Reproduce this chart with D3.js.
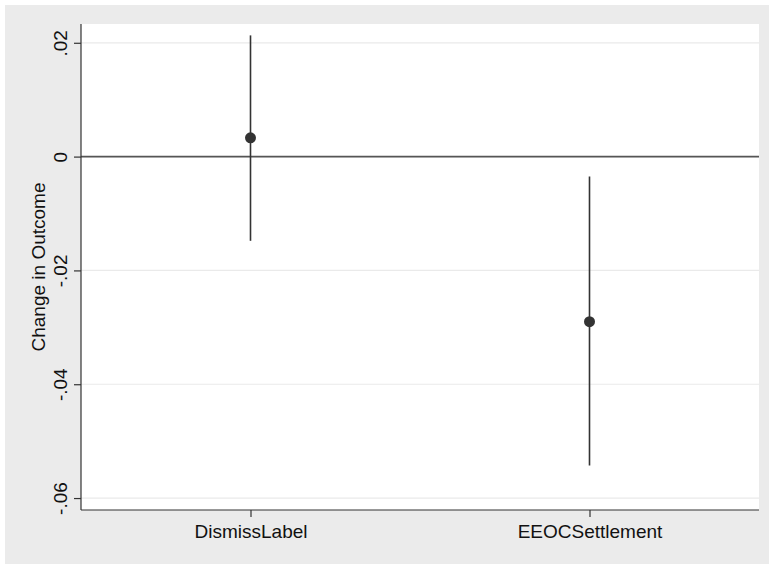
<!DOCTYPE html>
<html>
<head>
<meta charset="utf-8">
<script src="https://cdn.jsdelivr.net/npm/d3@7"></script>
<style>
  html, body { margin: 0; padding: 0; background: #ffffff; }
  svg { display: block; font-family: "Liberation Sans", Arial, sans-serif; }
</style>
</head>
<body>
<svg id="chart" width="769" height="565"></svg>
<script>
// Coefficient estimates with confidence intervals
const categories = ["DismissLabel", "EEOCSettlement"];
const estimates = [0.0033, -0.0290];
const ciLower = [-0.0148, -0.0543];
const ciUpper = [0.0213, -0.0035];
const yTicks = [0.02, 0, -0.02, -0.04, -0.06];
const yTickLabels = [".02", "0", "-.02", "-.04", "-.06"];
const yTitle = "Change in Outcome";

const W = 769, H = 565;
const plot = { left: 81, right: 759, top: 24, bottom: 510 };

const svg = d3.select("#chart");

// outer graph region
svg.append("rect")
  .attr("x", 5).attr("y", 5)
  .attr("width", W - 5).attr("height", H - 6)
  .attr("fill", "#ebebeb");

// plot region
svg.append("rect")
  .attr("x", plot.left).attr("y", plot.top)
  .attr("width", plot.right - plot.left).attr("height", plot.bottom - plot.top)
  .attr("fill", "#ffffff");

const x = d3.scaleLinear().domain([0.5, 2.5]).range([plot.left, plot.right]);
const y = d3.scaleLinear().domain([-0.0621, 0.0233]).range([plot.bottom, plot.top]);

// horizontal gridlines
svg.append("g").selectAll("line")
  .data(yTicks)
  .join("line")
  .attr("x1", plot.left).attr("x2", plot.right)
  .attr("y1", d => y(d)).attr("y2", d => y(d))
  .attr("stroke", "#eaeaea").attr("stroke-width", 1.2);

// reference line at zero
svg.append("line")
  .attr("x1", plot.left).attr("x2", plot.right)
  .attr("y1", y(0)).attr("y2", y(0))
  .attr("stroke", "#555555").attr("stroke-width", 1.6);

// y axis
const yAxis = d3.axisLeft(y)
  .tickValues(yTicks)
  .tickFormat((d, i) => yTickLabels[i])
  .tickSize(7)
  .tickPadding(5);
const gy = svg.append("g")
  .attr("transform", `translate(${plot.left},0)`)
  .call(yAxis);
gy.select(".domain").attr("stroke", "#333333").attr("stroke-width", 1.2)
  .attr("d", `M0,${plot.top}V${plot.bottom}`);
gy.selectAll(".tick line").attr("stroke", "#333333").attr("stroke-width", 1.2);
gy.selectAll(".tick text")
  .attr("font-size", 19)
  .attr("fill", "#111111")
  .attr("text-anchor", "middle")
  .attr("x", 0).attr("dy", 0)
  .attr("transform", "translate(-14,0) rotate(-90)");

// x axis
const xAxis = d3.axisBottom(x)
  .tickValues([1, 2])
  .tickFormat((d, i) => categories[i])
  .tickSize(7)
  .tickPadding(8);
const gx = svg.append("g")
  .attr("transform", `translate(0,${plot.bottom})`)
  .call(xAxis);
gx.select(".domain").attr("stroke", "#333333").attr("stroke-width", 1.2)
  .attr("d", `M${plot.left},0H${plot.right}`);
gx.selectAll(".tick line").attr("stroke", "#333333").attr("stroke-width", 1.2);
gx.selectAll(".tick text")
  .attr("font-size", 19)
  .attr("fill", "#111111");

// y axis title
svg.append("text")
  .attr("transform", `translate(45,${(plot.top + plot.bottom) / 2}) rotate(-90)`)
  .attr("text-anchor", "middle")
  .attr("font-size", 19)
  .attr("fill", "#111111")
  .text(yTitle);

// confidence intervals
svg.append("g").selectAll("line")
  .data(categories)
  .join("line")
  .attr("x1", (d, i) => x(i + 1)).attr("x2", (d, i) => x(i + 1))
  .attr("y1", (d, i) => y(ciUpper[i])).attr("y2", (d, i) => y(ciLower[i]))
  .attr("stroke", "#333333").attr("stroke-width", 1.6);

// point estimates
svg.append("g").selectAll("circle")
  .data(categories)
  .join("circle")
  .attr("cx", (d, i) => x(i + 1))
  .attr("cy", (d, i) => y(estimates[i]))
  .attr("r", 5.5)
  .attr("fill", "#333333");
</script>
</body>
</html>
